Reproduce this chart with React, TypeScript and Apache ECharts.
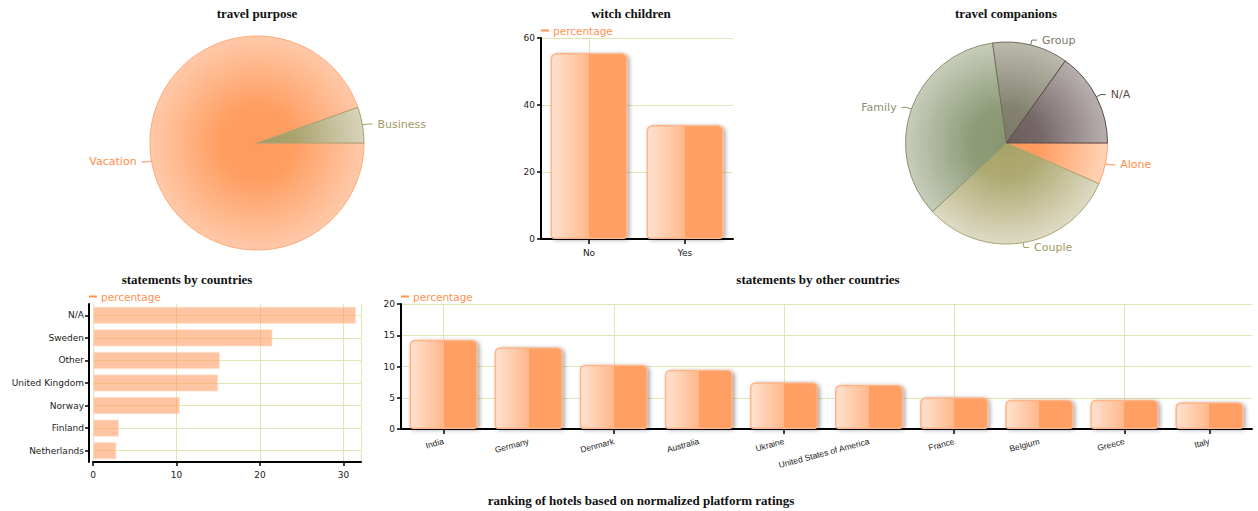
import React, { useEffect, useRef } from "react";
import * as echarts from "echarts";

const purposeNames = ["Vacation", "Business"];
const purposeValues = [94.6, 5.4];

const companionNames = ["Alone", "Couple", "Family", "Group", "N/A"];
const companionValues = [6.6, 31.5, 34.7, 12.1, 15.1];

const childrenCats = ["No", "Yes"];
const childrenValues = [55.5, 34];

const countryCats = ["N/A", "Sweden", "Other", "United Kingdom", "Norway", "Finland", "Netherlands"];
const countryValues = [31.5, 21.5, 15.2, 15.0, 10.4, 3.1, 2.8];

const otherCats = ["India", "Germany", "Denmark", "Australia", "Ukraine", "United States of America", "France", "Belgium", "Greece", "Italy"];
const otherValues = [14.3, 13.1, 10.3, 9.5, 7.5, 7.1, 5.1, 4.7, 4.7, 4.3];

const SANS = "DejaVu Sans";
const SERIF = "Liberation Serif";
const GRID_COLOR = "#e0e6b4";

function radial(cx: number, cy: number, r: number, inner: string, mid: string, outer: string) {
  return new echarts.graphic.RadialGradient(cx, cy, r, [
    { offset: 0, color: inner },
    { offset: 0.35, color: mid },
    { offset: 1, color: outer },
  ], true);
}

const barGradient = () =>
  new echarts.graphic.LinearGradient(0, 0, 1, 0, [
    { offset: 0, color: "#ffe2d0" },
    { offset: 0.5, color: "#ffb88c" },
    { offset: 0.5, color: "#ff9f63" },
    { offset: 1, color: "#ff9f63" },
  ]);

const barItemStyle = () => ({
  color: barGradient(),
  borderColor: "#ffb487",
  borderWidth: 1.5,
  borderRadius: [5, 5, 3, 3],
  shadowColor: "rgba(0,0,0,0.35)",
  shadowBlur: 4,
  shadowOffsetX: 2,
  shadowOffsetY: 1,
});

const vLines = (cats: string[]) => ({
  silent: true,
  symbol: "none",
  z: 1,
  label: { show: false },
  lineStyle: { color: GRID_COLOR, type: "solid", width: 1 },
  data: cats.filter((_, i) => i % 2 === 0).map((c) => ({ xAxis: c })),
});

const axisLine = { show: true, onZero: false, lineStyle: { color: "#000", width: 2 } };
const axisTick = { show: true, length: 4, lineStyle: { color: "#000", width: 1.5 } };

export default function App() {
  const ref = useRef<HTMLDivElement>(null);
  useEffect(() => {
    if (!ref.current) return;
    const chart = echarts.init(ref.current, undefined, { renderer: "svg" });

    const p1 = { cx: 257, cy: 143, r: 107 };
    const p2 = { cx: 1006.5, cy: 143, r: 101 };

    const purposeStyles = [
      { fill: radial(p1.cx, p1.cy, p1.r, "#ff9a5c", "#ff9e62", "#ffc9a9"), border: "#ffa878", label: "#ff8c4a" },
      { fill: radial(p1.cx, p1.cy, p1.r, "#a39b66", "#aaa36e", "#d8d4bb"), border: "#a8a070", label: "#a39b66" },
    ];
    const companionStyles = [
      { fill: radial(p2.cx, p2.cy, p2.r, "#ff9658", "#ff9e62", "#ffd4b8"), border: "#ffa070", label: "#ff8c4a" },
      { fill: radial(p2.cx, p2.cy, p2.r, "#a6a266", "#aeaa72", "#dedac4"), border: "#a8a470", label: "#a09a5e" },
      { fill: radial(p2.cx, p2.cy, p2.r, "#879670", "#8e9b78", "#c6cdba"), border: "#8a9470", label: "#8a9070" },
      { fill: radial(p2.cx, p2.cy, p2.r, "#7b7966", "#84826f", "#bcbaae"), border: "#6e6c5c", label: "#7a7868" },
      { fill: radial(p2.cx, p2.cy, p2.r, "#6b5c5c", "#766868", "#b8b0b0"), border: "#5a4848", label: "#5e4e4e" },
    ];

    const titleText = (text: string, x: number, y: number) => ({
      type: "text",
      x,
      y,
      style: {
        text,
        textAlign: "center",
        textVerticalAlign: "middle",
        font: `bold 13px "${SERIF}"`,
        fill: "#111",
      },
    });

    const legend = (left: number, top: number) => ({
      data: ["percentage"],
      left,
      top,
      padding: 0,
      icon: "rect",
      itemWidth: 8,
      itemHeight: 2,
      itemGap: 4,
      selectedMode: false,
      itemStyle: { color: "#ff9350", borderWidth: 0 },
      textStyle: { color: "#ff9350", fontSize: 10.5, fontFamily: SANS, padding: [0, 0, 0, -1] },
    });

    const option: any = {
      animation: false,
      textStyle: { fontFamily: SANS },
      graphic: [
        titleText("travel purpose", 257, 13),
        titleText("witch children", 631, 13),
        titleText("travel companions", 1006, 13),
        titleText("statements by countries", 187, 279),
        titleText("statements by other countries", 818, 279),
        titleText("ranking of hotels based on normalized platform ratings", 641, 500),
      ],
      legend: [legend(541, 25), legend(89, 291), legend(401, 291)],
      grid: [
        { left: 541, right: 525, top: 38, bottom: 272 },
        { left: 93, right: 897, top: 304, bottom: 49 },
        { left: 401, right: 6, top: 304, bottom: 82 },
      ],
      xAxis: [
        {
          type: "category",
          gridIndex: 0,
          data: childrenCats,
          axisLine,
          axisTick: { ...axisTick, length: 5, interval: 1, alignWithLabel: true },
          axisLabel: { interval: 0, color: "#222", fontSize: 9, fontFamily: SANS, margin: 9 },
          splitLine: { show: false },
        },
        {
          type: "value",
          gridIndex: 1,
          min: 0,
          max: 32.1,
          interval: 10,
          axisLine,
          axisTick: { ...axisTick, length: 4 },
          axisLabel: { color: "#222", fontSize: 9, fontFamily: SANS, margin: 8, showMaxLabel: false },
          splitLine: { show: true, lineStyle: { color: GRID_COLOR } },
        },
        {
          type: "category",
          gridIndex: 2,
          data: otherCats,
          axisLine,
          axisTick: { ...axisTick, length: 5, interval: 1, alignWithLabel: true },
          axisLabel: { interval: 0, rotate: 15, color: "#222", fontSize: 8.5, fontFamily: "Liberation Sans", margin: 12 },
          splitLine: { show: false },
        },
      ],
      yAxis: [
        {
          type: "value",
          gridIndex: 0,
          min: 0,
          max: 60,
          interval: 20,
          axisLine,
          axisTick,
          axisLabel: { color: "#222", fontSize: 9, fontFamily: SANS, margin: 6 },
          splitLine: { show: true, lineStyle: { color: GRID_COLOR } },
        },
        {
          type: "category",
          gridIndex: 1,
          data: countryCats,
          inverse: true,
          offset: 4,
          axisLine,
          axisTick: { ...axisTick, alignWithLabel: true },
          axisLabel: { interval: 0, color: "#222", fontSize: 9, fontFamily: SANS, margin: 5 },
          splitLine: { show: true, alignWithLabel: true, lineStyle: { color: GRID_COLOR } },
        },
        {
          type: "value",
          gridIndex: 2,
          min: 0,
          max: 20,
          interval: 5,
          axisLine,
          axisTick,
          axisLabel: { color: "#222", fontSize: 9, fontFamily: SANS, margin: 6 },
          splitLine: { show: true, lineStyle: { color: GRID_COLOR } },
        },
      ],
      series: [
        {
          type: "pie",
          name: "travel purpose",
          center: [p1.cx, p1.cy],
          radius: p1.r,
          startAngle: 0,
          clockwise: true,
          silent: true,
          label: { fontSize: 11, fontFamily: SANS },
          labelLine: { length: 5, length2: 5, lineStyle: { width: 1 } },
          data: purposeNames.map((n, i) => ({
            name: n,
            value: purposeValues[i],
            itemStyle: { color: purposeStyles[i].fill, borderColor: purposeStyles[i].border, borderWidth: 1 },
            label: { color: purposeStyles[i].label },
            labelLine: { lineStyle: { color: purposeStyles[i].label } },
          })),
        },
        {
          type: "pie",
          name: "travel companions",
          center: [p2.cx, p2.cy],
          radius: p2.r,
          startAngle: 0,
          clockwise: true,
          silent: true,
          label: { fontSize: 11, fontFamily: SANS },
          labelLine: { length: 5, length2: 5, lineStyle: { width: 1 } },
          data: companionNames.map((n, i) => ({
            name: n,
            value: companionValues[i],
            itemStyle: { color: companionStyles[i].fill, borderColor: companionStyles[i].border, borderWidth: 1 },
            label: { color: companionStyles[i].label },
            labelLine: { lineStyle: { color: companionStyles[i].label } },
          })),
        },
        {
          type: "bar",
          name: "percentage",
          xAxisIndex: 0,
          yAxisIndex: 0,
          barWidth: "80%",
          z: 3,
          data: childrenValues,
          itemStyle: barItemStyle(),
          markLine: vLines(childrenCats),
        },
        {
          type: "bar",
          name: "percentage",
          xAxisIndex: 1,
          yAxisIndex: 1,
          barWidth: "76%",
          data: countryValues,
          itemStyle: { color: "rgba(255,155,95,0.58)", borderColor: "rgba(255,220,200,0.8)", borderWidth: 1 },
        },
        {
          type: "bar",
          name: "percentage",
          xAxisIndex: 2,
          yAxisIndex: 2,
          barWidth: "80%",
          z: 3,
          data: otherValues,
          itemStyle: barItemStyle(),
          markLine: vLines(otherCats),
        },
      ],
    };

    chart.setOption(option);
    return () => chart.dispose();
  }, []);

  return (
    <div
      ref={ref}
      style={{ position: "absolute", left: 0, top: 0, width: 1258, height: 511, background: "#fff" }}
    />
  );
}
